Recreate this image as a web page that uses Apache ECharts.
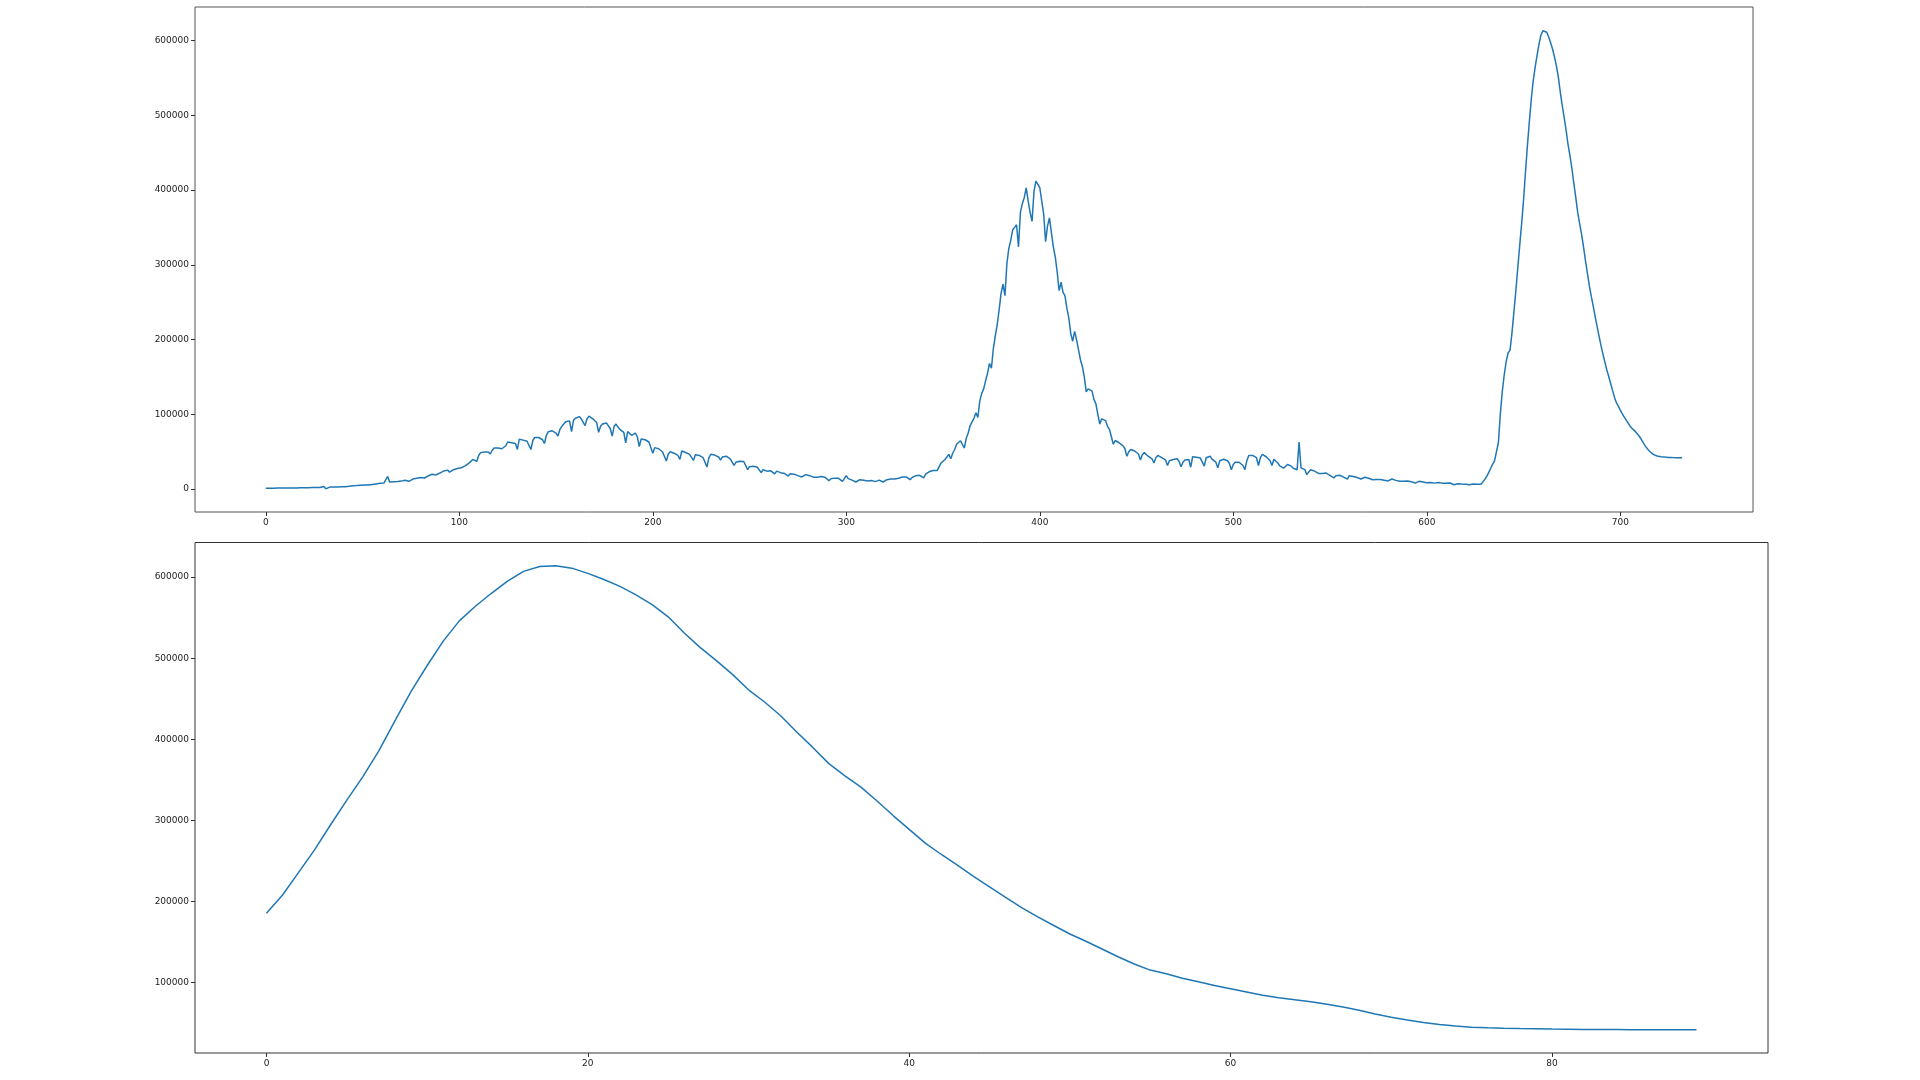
<!DOCTYPE html>
<html>
<head>
<meta charset="utf-8">
<script src="https://cdn.jsdelivr.net/npm/echarts@6/dist/echarts.min.js"></script>
<style>
html,body{margin:0;padding:0;background:#fff;}
#chart{width:1920px;height:1080px;}
</style>
</head>
<body>
<div id="chart"></div>
<script>
// Daily values, observed part (index 0..642)
const actual = [
1200,100,1300,200,1300,200,1400,300,1400,300,
1500,300,1500,400,1600,400,1600,500,1700,500,
1800,600,1900,700,2000,800,2100,900,2300,1000,
3600,400,3000,2700,2900,3000,3100,3000,3200,3300,
3400,3300,3600,3800,3900,4500,4300,4700,5000,5300,
5900,5600,5800,5400,4500,6200,6800,7000,7300,7700,
7900,8100,8400,17000,9500,9700,9900,9000,10200,10300,
10700,11200,11900,12600,10400,12800,13500,14000,14500,15000,
15400,14600,14900,16500,17800,19000,19900,20500,19000,19200,
21500,23000,24300,25000,25400,22600,24500,26000,26800,27500,
28000,28600,28000,31000,33400,34800,37000,39700,40500,37000,
45000,48800,49500,49700,50000,49700,47000,52000,55000,57000,
55000,53000,54000,52000,58000,63000,62500,62000,60000,61000,
53000,66800,66000,65500,65000,64000,62000,53000,65000,69000,
69500,69000,68000,66000,61000,72000,76800,77500,78000,77000,
75000,71000,80000,84000,87000,90000,90500,91000,76800,92000,
94800,96500,97000,94000,92000,85000,94000,97500,96500,94000,
91500,89000,76000,84000,87000,87500,88500,86000,81000,71000,
84000,87000,83000,80000,78000,76000,62000,77000,79000,72000,
73000,75000,70000,57000,67000,67700,66000,64000,63000,61000,
48000,55500,55000,54000,53000,50000,48800,37500,47000,50000,
49000,48000,47000,45000,39700,51000,50000,49000,48800,46500,
44000,38400,46000,47900,45000,43500,42000,40000,29800,42000,
46500,46000,45500,45000,43000,38800,43000,45000,44000,42000,
40600,38000,31600,36000,37500,37200,37000,37000,35000,26000,
30000,31600,30500,29500,29300,27500,22000,26000,25000,24000,
25000,24500,23500,20300,24000,23000,22000,21700,21000,19400,
17500,20500,21700,20000,18500,18000,17500,16300,18500,19400,
18800,18000,17500,16000,13500,16000,17200,16800,16300,15800,
14500,11300,14000,14900,14700,14500,14400,13500,10400,13000,
18000,14000,12600,12000,11000,9500,11500,12600,12400,12000,
11700,11000,9000,11500,12600,10000,12600,12000,11500,9500,
11500,12600,13000,13500,14000,13500,11300,14500,16300,16300,
16300,16300,15500,12600,15500,17200,18000,18500,18500,17500,
14900,20000,22600,23500,24800,25000,25300,25000,30000,35000,
37500,39700,43000,46500,40600,48000,53000,60000,62000,64600,
66000,55000,68000,75000,85000,90000,95000,102000,96000,118000,
128000,134000,145000,155000,168000,161600,188000,205000,220000,240000,
262000,274000,258700,301600,322000,333000,346800,350000,353500,324000,
370000,382000,390000,403000,385000,370000,358000,398000,412000,414500,
403000,404500,368000,331000,352000,362600,343000,324000,310600,290000,
265500,276800,263000,258700,242000,229000,208000,197800,211000,200000,
186500,173000,164000,150000,130000,134000,133600,131000,120000,114000,
100000,87000,94000,94000,91600,84000,80000,70000,60000,65000,
66800,62000,60000,57800,54000,44000,50000,53000,52000,51000,
49700,47000,38800,46000,48800,46500,44000,42500,40600,35000,
42000,45000,43500,42000,42000,39000,31600,38000,40600,39500,
38800,40600,37000,29800,36000,38800,39500,39700,29300,43300,
43000,42500,42000,41500,40600,30700,42000,43500,44000,40000,
38800,36000,28400,38000,40600,40000,39700,38000,34300,26000,
33000,36000,36000,36000,33500,31600,26000,38000,45000,44000,
45000,46500,42000,31600,42000,46500,45000,43300,42000,38000,
31600,40000,42000,35000,31000,29300,28000,26000,33000,35000,
30700,28000,26000,26000,63000,28400,27000,26000,19400,23000,
26000,25000,24000,22600,21000,19400,21000,22600,21500,20300,
18500,16500,14900,18000,19400,18500,17000,16000,14900,13500,
18000,17500,17000,16300,15500,14000,13500,15000,15800,15000,
14500,13500,12500,11300,12800,13500,13000,12600,12000,11700,
11000,12500,13500,13000,11700,11000,10500,9000,10500,11700,
11000,10400,10000,9000,8100,9500,10400,10000,9500,9000,
8500,9500,9000,7200,8000,8500,9000,8500,8000,7700,
7700,7500,8100,7500,5900,7000,7200,7000,6800,6800,
6500,5000,6000,6800,6700,6500,6600,6800,6500,8100,
13000,17000,22000,27500,33000,37500,40000,62000,100000,130000,
152000,170000,182000
];

// Next 90 days (shown alone in the lower panel, appended in the upper panel)
const forecast = [
185500,208000,236000,264000,295000,325000,354000,386000,423000,459000,
491000,521000,546000,564000,580000,595000,607000,613000,614000,611000,
604500,597000,588500,578000,566000,551000,531000,513000,497000,480000,
461000,446000,429000,409000,390000,370000,355000,341000,324000,306000,
289000,272000,258000,245000,231000,218000,205000,192500,181000,170500,
160000,151000,141500,132000,123000,115500,111000,105500,101000,96500,
92500,88500,84500,81500,79000,76500,73500,70000,66000,61500,
57500,54000,51000,48500,46500,45000,44300,43800,43400,43100,
42800,42600,42400,42300,42200,42100,42100,42000,42000,41900
];

// Tick labels
const topXTicks = [0,100,200,300,400,500,600,700];
const topYTicks = [0,100000,200000,300000,400000,500000,600000];
const botXTicks = [0,20,40,60,80];
const botYTicks = [100000,200000,300000,400000,500000,600000];

const full = actual.concat(forecast);
const topData = full.map((v,i)=>[i,v]);
const botData = forecast.map((v,i)=>[i,v]);

function pad(arr){ // matplotlib-like 5% margins
  const lo = Math.min(...arr), hi = Math.max(...arr), m = (hi-lo)*0.05;
  return [lo-m, hi+m];
}
const tx = pad([0, full.length-1]), ty = pad(full);
const bx = pad([0, forecast.length-1]), by = pad(forecast);

const FONT = 'DejaVu Sans';
function axis(idx, range, ticks){
  return {type:'value', gridIndex:idx, min:range[0], max:range[1],
    axisLine:{show:false, onZero:false}, splitLine:{show:false},
    axisTick:{show:true, inside:false, length:4, customValues:ticks, lineStyle:{color:'#333',width:1}},
    axisLabel:{customValues:ticks, margin:6, color:'#222', fontFamily:FONT, fontSize:9,
      formatter:function(v){ return String(Math.round(v)); }}};
}

const chart = echarts.init(document.getElementById('chart'), null, {renderer:'canvas'});
chart.setOption({
  animation:false,
  backgroundColor:'#fff',
  grid:[
    {left:195, top:7, width:1558, height:505, show:true, borderColor:'#555', borderWidth:1, backgroundColor:'transparent'},
    {left:195, top:542.5, width:1573, height:510.5, show:true, borderColor:'#333', borderWidth:1, backgroundColor:'transparent'}
  ],
  xAxis:[axis(0,tx,topXTicks), axis(1,bx,botXTicks)],
  yAxis:[axis(0,ty,topYTicks), axis(1,by,botYTicks)],
  series:[
    {type:'line', xAxisIndex:0, yAxisIndex:0, data:topData, showSymbol:false, symbol:'none',
     lineStyle:{color:'#1f77b4', width:1.5}, itemStyle:{color:'#1f77b4'}},
    {type:'line', xAxisIndex:1, yAxisIndex:1, data:botData, showSymbol:false, symbol:'none',
     lineStyle:{color:'#1f77b4', width:1.5}, itemStyle:{color:'#1f77b4'}}
  ]
});
</script>
</body>
</html>
